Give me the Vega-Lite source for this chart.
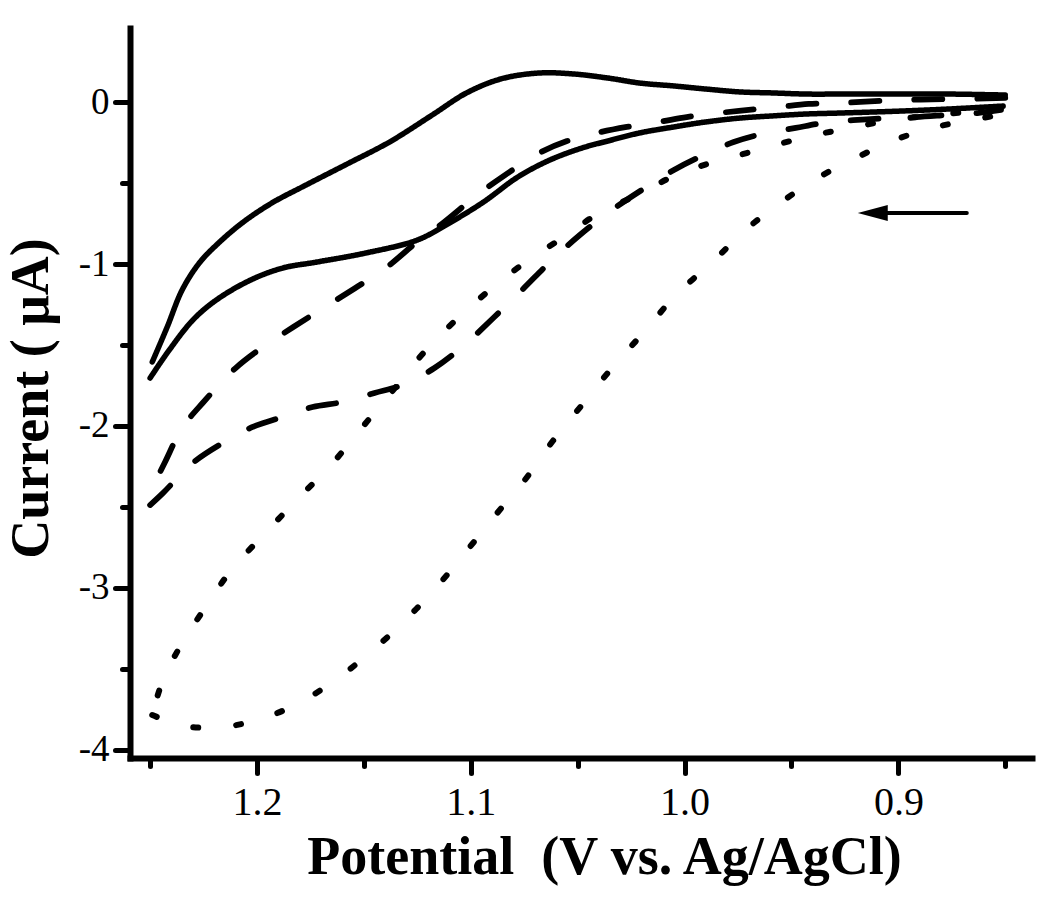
{
  "$schema": "https://vega.github.io/schema/vega-lite/v6.json",
  "width": 902,
  "height": 730,
  "autosize": {"type": "none"},
  "padding": {"left": 130, "top": 28, "right": 18, "bottom": 145},
  "background": "white",
  "config": {"view": {"stroke": null}, "font": "Liberation Serif"},
  "datasets": {
    "cv": [
      {"s":"solid","b":"solid_a","k":0,"E":0.850,"I":0.043},
      {"s":"solid","b":"solid_a","k":1,"E":0.876,"I":0.049},
      {"s":"solid","b":"solid_a","k":2,"E":0.899,"I":0.049},
      {"s":"solid","b":"solid_a","k":3,"E":0.927,"I":0.049},
      {"s":"solid","b":"solid_a","k":4,"E":0.943,"I":0.049},
      {"s":"solid","b":"solid_a","k":5,"E":0.959,"I":0.056},
      {"s":"solid","b":"solid_a","k":6,"E":0.974,"I":0.062},
      {"s":"solid","b":"solid_a","k":7,"E":0.990,"I":0.080},
      {"s":"solid","b":"solid_a","k":8,"E":1.005,"I":0.099},
      {"s":"solid","b":"solid_a","k":9,"E":1.021,"I":0.117},
      {"s":"solid","b":"solid_a","k":10,"E":1.036,"I":0.148},
      {"s":"solid","b":"solid_a","k":11,"E":1.052,"I":0.173},
      {"s":"solid","b":"solid_a","k":12,"E":1.068,"I":0.179},
      {"s":"solid","b":"solid_a","k":13,"E":1.086,"I":0.142},
      {"s":"solid","b":"solid_a","k":14,"E":1.102,"I":0.056},
      {"s":"solid","b":"solid_a","k":15,"E":1.118,"I":-0.080},
      {"s":"solid","b":"solid_a","k":16,"E":1.138,"I":-0.247},
      {"s":"solid","b":"solid_a","k":17,"E":1.157,"I":-0.377},
      {"s":"solid","b":"solid_a","k":18,"E":1.177,"I":-0.512},
      {"s":"solid","b":"solid_a","k":19,"E":1.193,"I":-0.623},
      {"s":"solid","b":"solid_a","k":20,"E":1.207,"I":-0.747},
      {"s":"solid","b":"solid_a","k":21,"E":1.219,"I":-0.883},
      {"s":"solid","b":"solid_a","k":22,"E":1.227,"I":-0.994},
      {"s":"solid","b":"solid_a","k":23,"E":1.235,"I":-1.160},
      {"s":"solid","b":"solid_a","k":24,"E":1.242,"I":-1.389},
      {"s":"solid","b":"solid_a","k":25,"E":1.249,"I":-1.605},

      {"s":"solid","b":"solid_b","k":0,"E":1.250,"I":-1.704},
      {"s":"solid","b":"solid_b","k":1,"E":1.242,"I":-1.549},
      {"s":"solid","b":"solid_b","k":2,"E":1.230,"I":-1.346},
      {"s":"solid","b":"solid_b","k":3,"E":1.219,"I":-1.222},
      {"s":"solid","b":"solid_b","k":4,"E":1.203,"I":-1.099},
      {"s":"solid","b":"solid_b","k":5,"E":1.188,"I":-1.025},
      {"s":"solid","b":"solid_b","k":6,"E":1.172,"I":-0.988},
      {"s":"solid","b":"solid_b","k":7,"E":1.149,"I":-0.932},
      {"s":"solid","b":"solid_b","k":8,"E":1.125,"I":-0.852},
      {"s":"solid","b":"solid_b","k":9,"E":1.110,"I":-0.747},
      {"s":"solid","b":"solid_b","k":10,"E":1.094,"I":-0.617},
      {"s":"solid","b":"solid_b","k":11,"E":1.078,"I":-0.463},
      {"s":"solid","b":"solid_b","k":12,"E":1.063,"I":-0.358},
      {"s":"solid","b":"solid_b","k":13,"E":1.048,"I":-0.284},
      {"s":"solid","b":"solid_b","k":14,"E":1.036,"I":-0.241},
      {"s":"solid","b":"solid_b","k":15,"E":1.021,"I":-0.191},
      {"s":"solid","b":"solid_b","k":16,"E":1.005,"I":-0.154},
      {"s":"solid","b":"solid_b","k":17,"E":0.990,"I":-0.123},
      {"s":"solid","b":"solid_b","k":18,"E":0.974,"I":-0.099},
      {"s":"solid","b":"solid_b","k":19,"E":0.959,"I":-0.086},
      {"s":"solid","b":"solid_b","k":20,"E":0.943,"I":-0.074},
      {"s":"solid","b":"solid_b","k":21,"E":0.927,"I":-0.068},
      {"s":"solid","b":"solid_b","k":22,"E":0.899,"I":-0.056},
      {"s":"solid","b":"solid_b","k":23,"E":0.876,"I":-0.043},
      {"s":"solid","b":"solid_b","k":24,"E":0.851,"I":-0.025},

      {"s":"dash","b":"dash_a","k":0,"E":0.850,"I":0.025},
      {"s":"dash","b":"dash_a","k":1,"E":0.871,"I":0.019},
      {"s":"dash","b":"dash_a","k":2,"E":0.899,"I":0.012},
      {"s":"dash","b":"dash_a","k":3,"E":0.927,"I":-0.006},
      {"s":"dash","b":"dash_a","k":4,"E":0.942,"I":-0.012},
      {"s":"dash","b":"dash_a","k":5,"E":0.956,"I":-0.031},
      {"s":"dash","b":"dash_a","k":6,"E":0.970,"I":-0.049},
      {"s":"dash","b":"dash_a","k":7,"E":0.984,"I":-0.068},
      {"s":"dash","b":"dash_a","k":8,"E":0.999,"I":-0.093},
      {"s":"dash","b":"dash_a","k":9,"E":1.012,"I":-0.123},
      {"s":"dash","b":"dash_a","k":10,"E":1.027,"I":-0.154},
      {"s":"dash","b":"dash_a","k":11,"E":1.041,"I":-0.191},
      {"s":"dash","b":"dash_a","k":12,"E":1.055,"I":-0.241},
      {"s":"dash","b":"dash_a","k":13,"E":1.068,"I":-0.315},
      {"s":"dash","b":"dash_a","k":14,"E":1.084,"I":-0.451},
      {"s":"dash","b":"dash_a","k":15,"E":1.097,"I":-0.574},
      {"s":"dash","b":"dash_a","k":16,"E":1.113,"I":-0.747},
      {"s":"dash","b":"dash_a","k":17,"E":1.124,"I":-0.852},
      {"s":"dash","b":"dash_a","k":18,"E":1.141,"I":-1.037},
      {"s":"dash","b":"dash_a","k":19,"E":1.154,"I":-1.148},
      {"s":"dash","b":"dash_a","k":20,"E":1.169,"I":-1.272},
      {"s":"dash","b":"dash_a","k":21,"E":1.183,"I":-1.389},
      {"s":"dash","b":"dash_a","k":22,"E":1.198,"I":-1.519},
      {"s":"dash","b":"dash_a","k":23,"E":1.210,"I":-1.642},
      {"s":"dash","b":"dash_a","k":24,"E":1.225,"I":-1.852},
      {"s":"dash","b":"dash_a","k":25,"E":1.235,"I":-2.012},
      {"s":"dash","b":"dash_a","k":26,"E":1.243,"I":-2.222},
      {"s":"dash","b":"dash_a","k":27,"E":1.249,"I":-2.383},

      {"s":"dash","b":"dash_b","k":0,"E":1.250,"I":-2.488},
      {"s":"dash","b":"dash_b","k":1,"E":1.244,"I":-2.414},
      {"s":"dash","b":"dash_b","k":2,"E":1.230,"I":-2.228},
      {"s":"dash","b":"dash_b","k":3,"E":1.216,"I":-2.105},
      {"s":"dash","b":"dash_b","k":4,"E":1.202,"I":-2.006},
      {"s":"dash","b":"dash_b","k":5,"E":1.188,"I":-1.944},
      {"s":"dash","b":"dash_b","k":6,"E":1.174,"I":-1.883},
      {"s":"dash","b":"dash_b","k":7,"E":1.160,"I":-1.852},
      {"s":"dash","b":"dash_b","k":8,"E":1.145,"I":-1.796},
      {"s":"dash","b":"dash_b","k":9,"E":1.132,"I":-1.747},
      {"s":"dash","b":"dash_b","k":10,"E":1.117,"I":-1.642},
      {"s":"dash","b":"dash_b","k":11,"E":1.104,"I":-1.512},
      {"s":"dash","b":"dash_b","k":12,"E":1.089,"I":-1.327},
      {"s":"dash","b":"dash_b","k":13,"E":1.076,"I":-1.160},
      {"s":"dash","b":"dash_b","k":14,"E":1.062,"I":-0.975},
      {"s":"dash","b":"dash_b","k":15,"E":1.049,"I":-0.821},
      {"s":"dash","b":"dash_b","k":16,"E":1.034,"I":-0.667},
      {"s":"dash","b":"dash_b","k":17,"E":1.020,"I":-0.543},
      {"s":"dash","b":"dash_b","k":18,"E":1.005,"I":-0.420},
      {"s":"dash","b":"dash_b","k":19,"E":0.992,"I":-0.333},
      {"s":"dash","b":"dash_b","k":20,"E":0.977,"I":-0.247},
      {"s":"dash","b":"dash_b","k":21,"E":0.964,"I":-0.198},
      {"s":"dash","b":"dash_b","k":22,"E":0.948,"I":-0.160},
      {"s":"dash","b":"dash_b","k":23,"E":0.935,"I":-0.130},
      {"s":"dash","b":"dash_b","k":24,"E":0.913,"I":-0.105},
      {"s":"dash","b":"dash_b","k":25,"E":0.892,"I":-0.093},
      {"s":"dash","b":"dash_b","k":26,"E":0.877,"I":-0.080},
      {"s":"dash","b":"dash_b","k":27,"E":0.863,"I":-0.068},
      {"s":"dash","b":"dash_b","k":28,"E":0.852,"I":-0.049},

      {"s":"dot","b":"dot_a","k":0,"E":0.852,"I":-0.037},
      {"s":"dot","b":"dot_a","k":1,"E":0.869,"I":-0.062},
      {"s":"dot","b":"dot_a","k":2,"E":0.886,"I":-0.086},
      {"s":"dot","b":"dot_a","k":3,"E":0.903,"I":-0.111},
      {"s":"dot","b":"dot_a","k":4,"E":0.920,"I":-0.154},
      {"s":"dot","b":"dot_a","k":5,"E":0.937,"I":-0.198},
      {"s":"dot","b":"dot_a","k":6,"E":0.954,"I":-0.253},
      {"s":"dot","b":"dot_a","k":7,"E":0.971,"I":-0.315},
      {"s":"dot","b":"dot_a","k":8,"E":0.988,"I":-0.377},
      {"s":"dot","b":"dot_a","k":9,"E":1.005,"I":-0.457},
      {"s":"dot","b":"dot_a","k":10,"E":1.022,"I":-0.574},
      {"s":"dot","b":"dot_a","k":11,"E":1.040,"I":-0.685},
      {"s":"dot","b":"dot_a","k":12,"E":1.055,"I":-0.821},
      {"s":"dot","b":"dot_a","k":13,"E":1.073,"I":-0.975},
      {"s":"dot","b":"dot_a","k":14,"E":1.090,"I":-1.148},
      {"s":"dot","b":"dot_a","k":15,"E":1.107,"I":-1.346},
      {"s":"dot","b":"dot_a","k":16,"E":1.123,"I":-1.562},
      {"s":"dot","b":"dot_a","k":17,"E":1.137,"I":-1.790},
      {"s":"dot","b":"dot_a","k":18,"E":1.151,"I":-2.012},
      {"s":"dot","b":"dot_a","k":19,"E":1.165,"I":-2.235},
      {"s":"dot","b":"dot_a","k":20,"E":1.181,"I":-2.451},
      {"s":"dot","b":"dot_a","k":21,"E":1.197,"I":-2.673},
      {"s":"dot","b":"dot_a","k":22,"E":1.212,"I":-2.889},
      {"s":"dot","b":"dot_a","k":23,"E":1.224,"I":-3.117},
      {"s":"dot","b":"dot_a","k":24,"E":1.235,"I":-3.340},
      {"s":"dot","b":"dot_a","k":25,"E":1.244,"I":-3.568},
      {"s":"dot","b":"dot_a","k":26,"E":1.249,"I":-3.784},

      {"s":"dot","b":"dot_b","k":0,"E":1.249,"I":-3.784},
      {"s":"dot","b":"dot_b","k":1,"E":1.234,"I":-3.852},
      {"s":"dot","b":"dot_b","k":2,"E":1.216,"I":-3.858},
      {"s":"dot","b":"dot_b","k":3,"E":1.200,"I":-3.815},
      {"s":"dot","b":"dot_b","k":4,"E":1.183,"I":-3.728},
      {"s":"dot","b":"dot_b","k":5,"E":1.166,"I":-3.593},
      {"s":"dot","b":"dot_b","k":6,"E":1.149,"I":-3.420},
      {"s":"dot","b":"dot_b","k":7,"E":1.132,"I":-3.216},
      {"s":"dot","b":"dot_b","k":8,"E":1.116,"I":-2.994},
      {"s":"dot","b":"dot_b","k":9,"E":1.102,"I":-2.772},
      {"s":"dot","b":"dot_b","k":10,"E":1.088,"I":-2.543},
      {"s":"dot","b":"dot_b","k":11,"E":1.074,"I":-2.321},
      {"s":"dot","b":"dot_b","k":12,"E":1.062,"I":-2.099},
      {"s":"dot","b":"dot_b","k":13,"E":1.048,"I":-1.870},
      {"s":"dot","b":"dot_b","k":14,"E":1.034,"I":-1.642},
      {"s":"dot","b":"dot_b","k":15,"E":1.019,"I":-1.420},
      {"s":"dot","b":"dot_b","k":16,"E":1.004,"I":-1.191},
      {"s":"dot","b":"dot_b","k":17,"E":0.987,"I":-0.988},
      {"s":"dot","b":"dot_b","k":18,"E":0.971,"I":-0.784},
      {"s":"dot","b":"dot_b","k":19,"E":0.954,"I":-0.611},
      {"s":"dot","b":"dot_b","k":20,"E":0.937,"I":-0.463},
      {"s":"dot","b":"dot_b","k":21,"E":0.919,"I":-0.340},
      {"s":"dot","b":"dot_b","k":22,"E":0.903,"I":-0.241},
      {"s":"dot","b":"dot_b","k":23,"E":0.886,"I":-0.167},
      {"s":"dot","b":"dot_b","k":24,"E":0.869,"I":-0.117},
      {"s":"dot","b":"dot_b","k":25,"E":0.852,"I":-0.080}
    ],
    "arrow": [{"E1": 0.910, "E2": 0.868, "I": -0.685}],
    "head": [{"E": 0.912, "I": -0.685}]
  },
  "layer": [
    {
      "data": {"name": "cv"},
      "mark": {"type": "line", "color": "black", "strokeCap": "round", "strokeJoin": "round", "interpolate": "catmull-rom"},
      "encoding": {
        "x": {
          "field": "E", "type": "quantitative",
          "scale": {"domain": [0.8375, 1.2594], "reverse": true, "nice": false, "zero": false},
          "axis": {
            "values": [1.25, 1.2, 1.15, 1.1, 1.05, 1.0, 0.95, 0.9, 0.85],
            "labelExpr": "round(datum.value*100) % 10 == 5 ? '' : format(datum.value, '.1f')",
            "tickSize": {"condition": {"test": "round(datum.value*100) % 10 == 5", "value": 8}, "value": 15},
            "grid": false,
            "domainColor": "black", "domainWidth": 6, "domainCap": "square",
            "tickColor": "black", "tickWidth": 5, "tickCap": "round",
            "labelFont": "Liberation Serif", "labelFontSize": 40, "labelColor": "black", "labelPadding": 9,
            "labelFlush": false, "labelOverlap": false,
            "title": "Potential \u00a0(V vs. Ag/AgCl)",
            "titleFont": "Liberation Serif", "titleFontSize": 54, "titleFontWeight": "bold", "titleColor": "black",
            "titleX": 474, "titleY": 115, "titleBaseline": "alphabetic", "titleAlign": "center", "titleAnchor": null
          }
        },
        "y": {
          "field": "I", "type": "quantitative",
          "scale": {"domain": [-4.0494, 0.4568], "nice": false, "zero": false},
          "axis": {
            "values": [0, -0.5, -1, -1.5, -2, -2.5, -3, -3.5, -4],
            "labelExpr": "datum.value % 1 != 0 ? '' : (datum.value == 0 ? '0' : '-' + abs(datum.value))",
            "tickSize": {"condition": {"test": "datum.value % 1 != 0", "value": 8}, "value": 15},
            "grid": false,
            "domainColor": "black", "domainWidth": 6, "domainCap": "square",
            "tickColor": "black", "tickWidth": 5, "tickCap": "round",
            "labelFont": "Liberation Serif", "labelFontSize": 37, "labelColor": "black", "labelPadding": 6,
            "labelFlush": false, "labelOverlap": false,
            "title": "Current ( μA)",
            "titleFont": "Liberation Serif", "titleFontSize": 54, "titleFontWeight": "bold", "titleColor": "black",
            "titleX": -83, "titleY": 370, "titleBaseline": "alphabetic", "titleAlign": "center", "titleAngle": 270, "titleAnchor": null
          }
        },
        "detail": {"field": "b", "type": "nominal"},
        "order": {"field": "k", "type": "quantitative"},
        "strokeDash": {
          "field": "s", "type": "nominal",
          "scale": {"domain": ["solid", "dash", "dot"], "range": [[1, 0], [28, 35], [5, 38]]},
          "legend": null
        },
        "strokeWidth": {
          "field": "s", "type": "nominal",
          "scale": {"domain": ["solid", "dash", "dot"], "range": [5.5, 6, 7]},
          "legend": null
        }
      }
    },
    {
      "data": {"name": "arrow"},
      "mark": {"type": "rule", "color": "black", "strokeWidth": 4, "strokeCap": "round"},
      "encoding": {
        "x": {"field": "E1", "type": "quantitative"},
        "x2": {"field": "E2"},
        "y": {"field": "I", "type": "quantitative"}
      }
    },
    {
      "data": {"name": "head"},
      "mark": {"type": "point", "filled": true, "color": "black", "opacity": 1, "shape": "M -1 0 L 1 -0.53 L 1 0.53 Z", "size": 900, "strokeWidth": 0},
      "encoding": {
        "x": {"field": "E", "type": "quantitative"},
        "y": {"field": "I", "type": "quantitative"}
      }
    }
  ]
}
